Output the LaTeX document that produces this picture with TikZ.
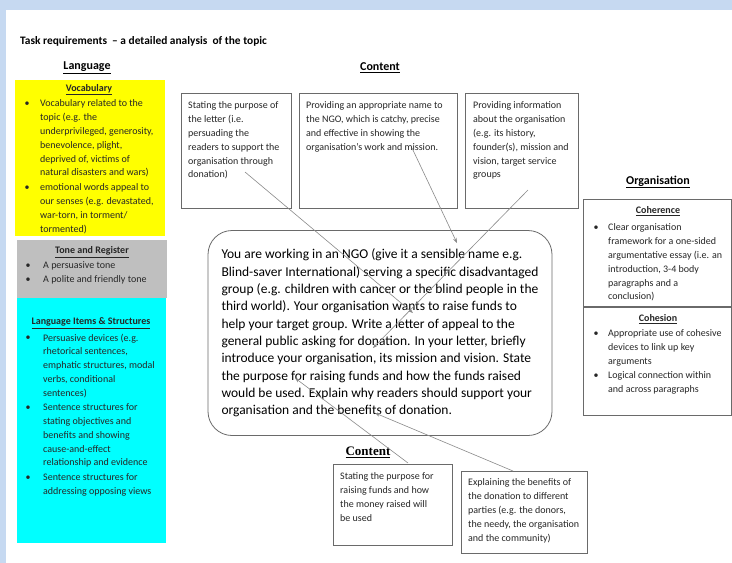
\documentclass[tikz,border=0pt]{standalone}
\usepackage{fontspec}
\setmainfont{Carlito}
\newfontfamily\capserif{Liberation Serif}
\usetikzlibrary{arrows.meta,calc}
\definecolor{pageblue}{HTML}{C6D9F1}
\definecolor{framegray}{HTML}{6A6A6A}
\definecolor{linkgray}{HTML}{8A8A8A}
\definecolor{inkgray}{HTML}{262626}
\definecolor{vocabyellow}{HTML}{FFFF00}
\definecolor{tonegray}{HTML}{BFBFBF}
\definecolor{itemcyan}{HTML}{00FFFF}

\begin{document}
\begin{tikzpicture}[x=1pt,y=-1pt,>=Stealth,
  panel/.style={draw=framegray,line width=0.8pt,inner sep=0pt,anchor=north west},
  body/.style={font=\fontsize{10}{13.85}\selectfont,align=left,inner sep=0pt,anchor=north west,text=inkgray},
  head/.style={font=\bfseries\fontsize{10}{12}\selectfont,inner sep=0pt,text=inkgray},
  section/.style={font=\bfseries\fontsize{12}{14}\selectfont,inner sep=0pt,text=black},
  dot/.style={font=\fontsize{10}{12}\selectfont,inner sep=0pt,text=inkgray},
  link/.style={-{Stealth[length=5pt,width=3.6pt]},draw=linkgray,line width=0.6pt}]
\useasboundingbox (0,0) rectangle (732,563);
% page on blue backdrop
\fill[pageblue] (0,0) rectangle (732,563);
\fill[white] (6,10) rectangle (732,563);
% title and section headings
\node[font=\bfseries\fontsize{11.4}{13}\selectfont,anchor=west,inner sep=0pt] (title) at (20,41)
  {Task requirements~ – a detailed analysis~ of the topic};
\node[section] (language) at (87,68) {\underline{Language}};
\node[section] (content) at (380,68) {\underline{Content}};
\node[section] (organisation) at (658,182) {\underline{Organisation}};

% Language column
\fill[vocabyellow] (15,80) rectangle (165,236);
\fill[tonegray] (17,240) rectangle (167,298);
\fill[itemcyan] (17,298) rectangle (166,543);
\node[head] (vocab) at (89,90) {\underline{Vocabulary}};
\foreach \by in {104,188} \node[dot] (dotV\by) at (27,\by) {\textbullet};
\node[body] (vocabA) at (40,99.5) {Vocabulary related to the\\topic (e.g. the\\underprivileged, generosity,\\benevolence, plight,\\deprived of, victims of\\natural disasters and wars)};
\node[body] (vocabB) at (40,183.5) {emotional words appeal to\\our senses (e.g. devastated,\\war-torn, in torment/\\tormented)};
\node[head] (tone) at (92,252) {\underline{Tone and Register}};
\foreach \by in {266,280} \node[dot] (dotT\by) at (28,\by) {\textbullet};
\node[body] (toneA) at (43,261.5) {A persuasive tone};
\node[body] (toneB) at (43,275.5) {A polite and friendly tone};
\node[head] (items) at (91,323) {\underline{Language Items \& Structures}};
\foreach \by in {338,408,478} \node[dot] (dotL\by) at (28,\by) {\textbullet};
\node[body] (itemsA) at (43,333.5) {Persuasive devices (e.g.\\rhetorical sentences,\\emphatic structures, modal\\verbs, conditional\\sentences)};
\node[body] (itemsB) at (43,403.5) {Sentence structures for\\stating objectives and\\benefits and showing\\cause-and-effect\\relationship and evidence};
\node[body] (itemsC) at (43,473.5) {Sentence structures for\\addressing opposing views};

% Content boxes along the top
\node[panel,minimum width=110pt,minimum height=115pt] (purpose) at (181,93) {};
\node[body] at ($(purpose.north west)+(7,8.5)$) {Stating the purpose of\\the letter (i.e.\\persuading the\\readers to support the\\organisation through\\donation)};
\node[panel,minimum width=158pt,minimum height=115pt] (ngoname) at (299,93) {};
\node[body] at ($(ngoname.north west)+(7,8.5)$) {Providing an appropriate name to\\the NGO, which is catchy, precise\\and effective in showing the\\organisation’s work and mission.};
\node[panel,minimum width=113pt,minimum height=115pt] (orginfo) at (465,93) {};
\node[body] at ($(orginfo.north west)+(8,8.5)$) {Providing information\\about the organisation\\(e.g. its history,\\founder(s), mission and\\vision, target service\\groups};

% Organisation boxes
\node[panel,minimum width=148pt,minimum height=107pt] (coherence) at (583,199) {};
\node[head] at (658,211) {\underline{Coherence}};
\node[dot] (dotC228) at (596,228) {\textbullet};
\node[body] at (608,223.5) {Clear organisation\\framework for a one-sided\\argumentative essay (i.e. an\\introduction, 3-4 body\\paragraphs and a\\conclusion)};
\node[panel,minimum width=148pt,minimum height=108pt] (cohesion) at (583,307) {};
\node[head] at (658,319) {\underline{Cohesion}};
\foreach \by in {334,376} \node[dot] (dotH\by) at (596,\by) {\textbullet};
\node[body] at (608,329.5) {Appropriate use of cohesive\\devices to link up key\\arguments};
\node[body] at (608,371.5) {Logical connection within\\and across paragraphs};

% the task itself
\node[draw=framegray,line width=0.8pt,rounded corners=24pt,minimum width=344pt,minimum height=205pt,
  align=left,font=\fontsize{13.5}{17.3}\selectfont,text=black] (task) at (380,333)
  {You are working in an NGO (give it a sensible name e.g.\\Blind-saver International) serving a specific disadvantaged\\group (e.g. children with cancer or the blind people in the\\third world). Your organisation wants to raise funds to\\help your target group. Write a letter of appeal to the\\general public asking for donation. In your letter, briefly\\introduce your organisation, its mission and vision. State\\the purpose for raising funds and how the funds raised\\would be used. Explain why readers should support your\\organisation and the benefits of donation.};

% Content boxes below
\node[font=\capserif\bfseries\fontsize{13}{15}\selectfont,inner sep=0pt] (content2) at (368,452) {\underline{Content}};
\node[panel,minimum width=119pt,minimum height=81pt] (funds) at (333,464) {};
\node[body] at ($(funds.north west)+(7,8.5)$) {Stating the purpose for\\raising funds and how\\the money raised will\\be used};
\node[panel,minimum width=126pt,minimum height=82pt] (benefits) at (461,471) {};
\node[body] at ($(benefits.north west)+(7,7.5)$) {Explaining the benefits of\\the donation to different\\parties (e.g. the donors,\\the needy, the organisation\\and the community)};

% connectors into the task text
\coordinate (purposeTail) at (245,172);
\coordinate (purposeTip) at (413,313);
\coordinate (nameTail) at (412,148);
\coordinate (nameTip) at (457,243);
\coordinate (infoTail) at (528,190);
\coordinate (infoTip) at (373,348);
\coordinate (fundsTail) at (408,463);
\coordinate (fundsTip) at (295,378);
\coordinate (benefitsTail) at (513,471);
\coordinate (benefitsTip) at (375,413);
\draw[link] (purposeTail) -- (purposeTip);
\draw[link] (nameTail) -- (nameTip);
\draw[link] (infoTail) -- (infoTip);
\draw[link] (fundsTail) -- (fundsTip);
\draw[link] (benefitsTail) -- (benefitsTip);
\end{tikzpicture}
\end{document}
